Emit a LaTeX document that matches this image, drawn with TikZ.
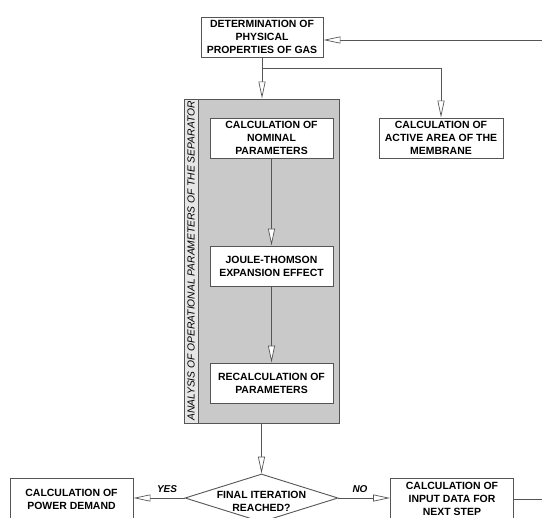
\documentclass[tikz,border=0pt]{standalone}
\usepackage{fontspec}
\setmainfont{Liberation Sans}
\usetikzlibrary{arrows.meta,shapes.geometric,calc}
\definecolor{linec}{HTML}{555555}
\definecolor{panelgray}{HTML}{C9C9C9}
\definecolor{stripgray}{HTML}{E6E6E6}
\tikzset{
  box/.style={draw=linec, line width=0.9bp, fill=white, align=center,
    font=\fontsize{10.5}{13}\selectfont\bfseries, inner sep=0pt,
    minimum width=#1, minimum height=40bp},
  box/.default=123bp,
  conn/.style={draw=linec, line width=0.9bp},
  arr/.style={conn, -{Triangle[length=17bp,width=7bp,fill=white,line width=0.7bp]}},
  lbl/.style={font=\fontsize{10}{12}\selectfont\bfseries\itshape},
  decision/.style={draw=linec, line width=0.9bp, fill=white, diamond, aspect=3.19,
    minimum width=153bp, minimum height=48bp, inner sep=0pt},
  dtext/.style={align=center, font=\fontsize{10.5}{13}\selectfont\bfseries, inner sep=0pt}
}
\begin{document}
\begin{tikzpicture}[x=1bp,y=-1bp]
\useasboundingbox (0,0) rectangle (542,518);
% panel
\node[draw=linec, line width=0.9bp, fill=panelgray, minimum width=155bp, minimum height=324bp, inner sep=0pt] (panel) at (261.5,261) {};
\node[draw=linec, line width=0.9bp, fill=stripgray, minimum width=14bp, minimum height=324bp, inner sep=0pt] (strip) at (191,261) {};
\node[rotate=90, font=\fontsize{10.3}{12}\selectfont\itshape, inner sep=0pt] (striplabel) at (strip.center) {ANALYSIS OF OPERATIONAL PARAMETERS OF THE SEPARATOR};
% boxes
\node[box=122bp] (gas) at (262,37) {DETERMINATION OF\\PHYSICAL\\PROPERTIES OF GAS};
\node[box=124bp] (membrane) at (441,138) {CALCULATION OF\\ACTIVE AREA OF THE\\MEMBRANE};
\node[box] (nominal) at (271.5,138) {CALCULATION OF\\NOMINAL\\PARAMETERS};
\node[box] (joule) at (271.5,266) {JOULE-THOMSON\\EXPANSION EFFECT};
\node[box] (recalc) at (271.5,383) {RECALCULATION OF\\PARAMETERS};
\node[decision] (dec) at (261.5,498) {};
\node[dtext] (dectext) at (261.5,501) {FINAL ITERATION\\REACHED?};
\node[box, minimum height=42bp] (power) at (71.5,499) {CALCULATION OF\\POWER DEMAND};
\node[box, minimum height=42bp] (input) at (452,499) {CALCULATION OF\\INPUT DATA FOR\\NEXT STEP};
% labels
\node[lbl] (yes) at (167,489) {YES};
\node[lbl] (no) at (360,489) {NO};
% coordinates
\coordinate (fbin) at (542,40);
\coordinate (fbout) at (542,499);
\coordinate (split) at (262,68);
\coordinate (corner) at (441,68);
% connectors
\draw[arr] (fbin) -- (gas.east |- fbin);
\draw[arr] (gas.south) -- (panel.north -| gas.south);
\draw[arr] (split) -- (corner) -- (membrane.north);
\draw[arr] (nominal.south) -- (joule.north);
\draw[arr] (joule.south) -- (recalc.north);
\draw[arr] (panel.south) -- (dec.north);
\draw[arr] (dec.west) -- (power.east |- dec.west);
\draw[arr] (dec.east) -- (input.west |- dec.east);
\draw[conn] (input.east |- fbout) -- (fbout);
\end{tikzpicture}
\end{document}
